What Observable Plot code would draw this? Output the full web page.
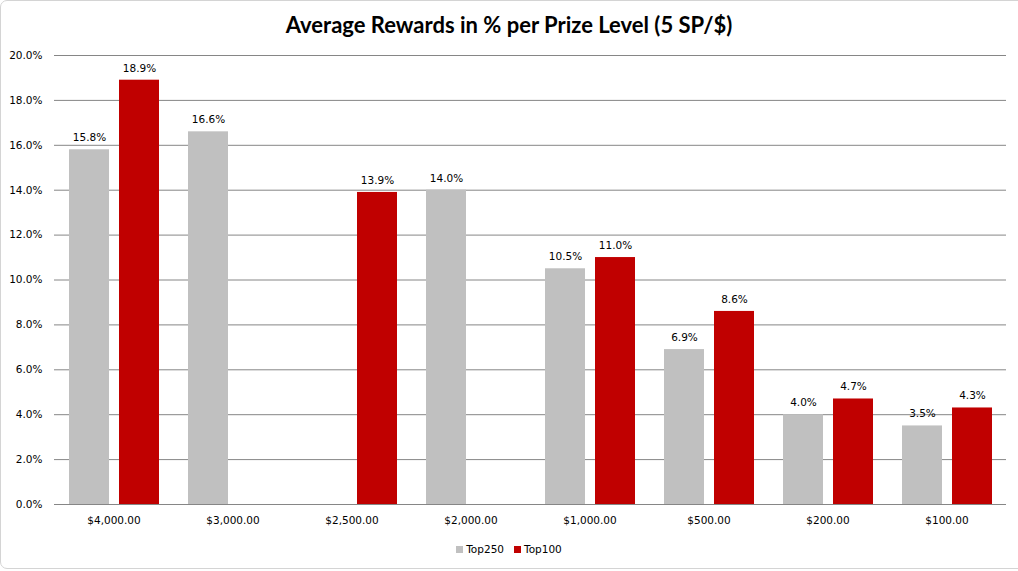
<!DOCTYPE html>
<html>
<head>
<meta charset="utf-8">
<script src="https://cdn.jsdelivr.net/npm/d3@7"></script>
<script src="https://cdn.jsdelivr.net/npm/@observablehq/plot@0.6"></script>
<style>
  html, body { margin: 0; padding: 0; background: #fff; overflow: hidden; }
  #frame { position: absolute; left: 0; top: 0; width: 1024px; height: 567px; border: 1px solid #d4d4d4; border-radius: 7px; }
  #title { position: absolute; left: 0; top: 11px; width: 1018px; text-align: center; font-family: Lato, "Open Sans", sans-serif; font-weight: bold; font-size: 22px; color: #000; }
  #chart { position: absolute; left: 0; top: 40px; }
  #legend { position: absolute; left: 0; top: 543px; width: 1018px; text-align: center; font-family: "DejaVu Sans", sans-serif; font-size: 10.5px; color: #000; }
  .sw { display: inline-block; width: 7px; height: 7px; margin-right: 3px; vertical-align: 0px; }
  .item { display: inline-block; margin: 0 5px; }
</style>
</head>
<body>
<div id="frame"></div>
<div id="title">Average Rewards in % per Prize Level (5 SP/$)</div>
<div id="chart"></div>
<div id="legend"></div>
<script>
const categories = ["$4,000.00", "$3,000.00", "$2,500.00", "$2,000.00", "$1,000.00", "$500.00", "$200.00", "$100.00"];
const seriesNames = ["Top250", "Top100"];
const seriesColors = ["#c0c0c0", "#c00000"];
const top250 = [15.8, 16.6, null, 14.0, 10.5, 6.9, 4.0, 3.5];
const top100 = [18.9, null, 13.9, null, 11.0, 8.6, 4.7, 4.3];
const yTicks = [0, 2, 4, 6, 8, 10, 12, 14, 16, 18, 20];

const data = [];
categories.forEach((c, i) => {
  if (top250[i] != null) data.push({category: c, series: "Top250", value: top250[i]});
  if (top100[i] != null) data.push({category: c, series: "Top100", value: top100[i]});
});

const fmt = d => d.toFixed(1) + "%";

const plot = Plot.plot({
  width: 1018,
  height: 494,
  marginTop: 15,
  marginBottom: 30,
  marginLeft: 53,
  marginRight: 11,
  style: { fontFamily: "DejaVu Sans, sans-serif", fontSize: "10.5px", color: "#000", background: "transparent" },
  fx: { domain: categories, padding: 0, label: null, axis: "bottom", tickSize: 0, tickPadding: 12 },
  x: { domain: seriesNames, paddingInner: 0.2, paddingOuter: 0.29, axis: null },
  y: { domain: [0, 20], ticks: yTicks, tickFormat: fmt, label: null, tickSize: 0, tickPadding: 12 },
  color: { domain: seriesNames, range: seriesColors },
  marks: [
    Plot.ruleY(yTicks, { stroke: "#868686", strokeWidth: 1 }),
    Plot.barY(data, { fx: "category", x: "series", y: "value", fill: "series" }),
    Plot.text(data, { fx: "category", x: "series", y: "value", text: d => fmt(d.value), dy: -12, fill: "#000" })
  ]
});
document.getElementById("chart").appendChild(plot);

const legend = document.getElementById("legend");
seriesNames.forEach((s, i) => {
  const item = document.createElement("span");
  item.className = "item";
  const sw = document.createElement("span");
  sw.className = "sw";
  sw.style.background = seriesColors[i];
  item.appendChild(sw);
  item.appendChild(document.createTextNode(s));
  legend.appendChild(item);
});
</script>
</body>
</html>
